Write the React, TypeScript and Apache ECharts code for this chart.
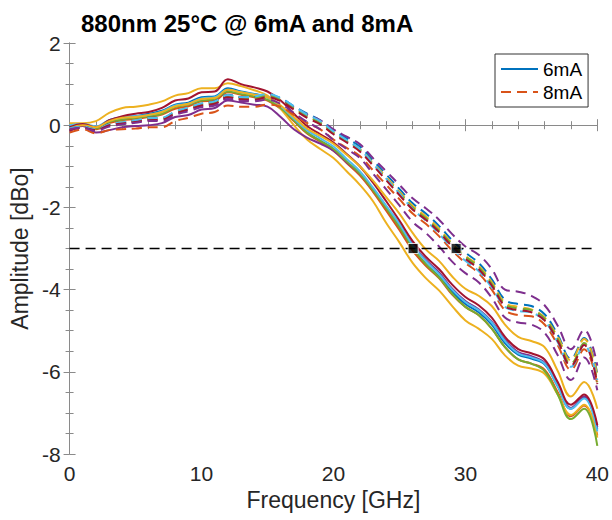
import React, { useEffect, useRef } from "react";
import * as echarts from "echarts";

// Frequency grid [GHz]
const FREQ = [
  0, 1, 2, 3, 4, 5, 6, 7, 8, 9,
  10, 11, 12, 13, 14, 15, 16, 17, 18, 19,
  20, 21, 22, 23, 24, 25, 26, 27, 28, 29,
  30, 31, 32, 33, 34, 35, 36, 37, 38, 39,
  40,
];

// 6 mA curves (solid)
const S_BLUE = [
  -0.02, 0.03, -0.05, 0.12, 0.2, 0.22, 0.28, 0.35, 0.5, 0.55,
  0.68, 0.7, 0.9, 0.82, 0.76, 0.68, 0.45, 0.12, -0.18, -0.38,
  -0.58, -0.9, -1.2, -1.6, -2.05, -2.5, -3.0, -3.38, -3.68, -4.05,
  -4.35, -4.55, -4.85, -5.3, -5.58, -5.68, -5.82, -6.35, -6.9, -6.62,
  -7.4,
];
const S_ORANGE = [
  -0.1, 0.0, -0.1, 0.05, 0.12, 0.15, 0.2, 0.26, 0.4, 0.46,
  0.58, 0.6, 0.8, 0.74, 0.68, 0.6, 0.4, 0.1, -0.2, -0.4,
  -0.62, -0.92, -1.22, -1.62, -2.08, -2.55, -3.05, -3.42, -3.72, -4.12,
  -4.42, -4.62, -4.95, -5.4, -5.7, -5.8, -5.95, -6.5, -7.08, -6.82,
  -7.55,
];
const S_YELLOW_A = [
  0.05, 0.05, 0.1, 0.3, 0.42, 0.45, 0.5, 0.58, 0.72, 0.78,
  0.9, 0.9, 1.02, 0.95, 0.85, 0.72, 0.4, 0.0, -0.35, -0.58,
  -0.8, -1.12, -1.45, -1.85, -2.38, -2.85, -3.35, -3.72, -4.02, -4.4,
  -4.75, -4.95, -5.2, -5.6, -5.85, -5.92, -6.05, -6.55, -7.05, -6.8,
  -7.6,
];
const S_YELLOW_B = [
  -0.08, 0.0, -0.05, 0.1, 0.18, 0.2, 0.25, 0.32, 0.46, 0.52,
  0.64, 0.66, 0.86, 0.8, 0.74, 0.68, 0.48, 0.2, -0.08, -0.26,
  -0.45, -0.72, -1.0, -1.35, -1.75, -2.15, -2.62, -3.02, -3.3, -3.68,
  -3.98, -4.15, -4.4, -4.85, -5.15, -5.25, -5.4, -5.98, -6.6, -6.25,
  -6.9,
];
const S_PURPLE = [
  -0.15, -0.02, -0.18, -0.12, -0.05, -0.02, 0.0, 0.05, 0.2, 0.25,
  0.38, 0.42, 0.6, 0.55, 0.5, 0.45, 0.2, -0.1, -0.3, -0.45,
  -0.62, -0.9, -1.18, -1.55, -1.98, -2.42, -2.9, -3.28, -3.58, -3.98,
  -4.28, -4.48, -4.78, -5.22, -5.52, -5.62, -5.78, -6.32, -6.88, -6.6,
  -7.35,
];
const S_GREEN = [
  -0.05, 0.02, -0.08, 0.08, 0.14, 0.18, 0.22, 0.28, 0.44, 0.5,
  0.6, 0.64, 0.82, 0.76, 0.7, 0.62, 0.42, 0.12, -0.18, -0.38,
  -0.58, -0.88, -1.18, -1.58, -2.02, -2.48, -2.98, -3.38, -3.7, -4.1,
  -4.42, -4.62, -4.95, -5.4, -5.7, -5.8, -5.98, -6.55, -7.15, -6.9,
  -7.8,
];
const S_CYAN = [
  0.0, 0.03, -0.03, 0.12, 0.18, 0.22, 0.25, 0.33, 0.48, 0.52,
  0.65, 0.68, 0.86, 0.8, 0.75, 0.68, 0.46, 0.16, -0.12, -0.32,
  -0.52, -0.82, -1.12, -1.52, -1.96, -2.4, -2.92, -3.3, -3.62, -4.0,
  -4.3, -4.5, -4.8, -5.25, -5.55, -5.65, -5.8, -6.35, -6.9, -6.65,
  -7.45,
];
const S_RED = [
  -0.05, 0.03, -0.05, 0.12, 0.22, 0.28, 0.32, 0.42, 0.6, 0.65,
  0.8, 0.82, 1.12, 1.0, 0.92, 0.82, 0.6, 0.28, -0.02, -0.22,
  -0.42, -0.7, -1.0, -1.4, -1.85, -2.32, -2.82, -3.2, -3.5, -3.88,
  -4.18, -4.38, -4.68, -5.15, -5.45, -5.55, -5.7, -6.25, -6.8, -6.55,
  -7.3,
];

// 8 mA curves (dashed)
const D_BLUE = [
  -0.08, -0.03, -0.1, 0.03, 0.08, 0.12, 0.18, 0.18, 0.33, 0.42,
  0.52, 0.58, 0.74, 0.68, 0.68, 0.74, 0.66, 0.46, 0.28, 0.12,
  -0.12, -0.32, -0.52, -0.86, -1.2, -1.55, -1.9, -2.15, -2.45, -2.8,
  -3.1, -3.35, -3.75, -4.25, -4.35, -4.4, -4.6, -5.1, -5.68, -5.18,
  -6.05,
];
const D_ORANGE = [
  -0.18, -0.1, -0.2, -0.12, -0.1, -0.08, -0.05, -0.05, 0.1, 0.18,
  0.28, 0.32, 0.48, 0.45, 0.45, 0.5, 0.45, 0.25, 0.05, -0.1,
  -0.35, -0.55, -0.75, -1.1, -1.45, -1.8, -2.15, -2.4, -2.7, -3.05,
  -3.35, -3.6, -4.0, -4.5, -4.62, -4.65, -4.85, -5.35, -5.95, -5.45,
  -6.3,
];
const D_YELLOW = [
  -0.1, -0.05, -0.1, 0.02, 0.08, 0.12, 0.17, 0.17, 0.32, 0.42,
  0.52, 0.56, 0.72, 0.66, 0.66, 0.72, 0.62, 0.42, 0.22, 0.06,
  -0.18, -0.38, -0.58, -0.92, -1.26, -1.62, -1.96, -2.22, -2.52, -2.88,
  -3.18, -3.42, -3.82, -4.32, -4.42, -4.48, -4.68, -5.15, -5.72, -5.2,
  -6.1,
];
const D_PURPLE_A = [
  -0.12, -0.05, -0.12, 0.0, 0.05, 0.1, 0.14, 0.14, 0.28, 0.38,
  0.48, 0.52, 0.68, 0.62, 0.62, 0.7, 0.62, 0.44, 0.26, 0.12,
  -0.1, -0.28, -0.46, -0.8, -1.12, -1.45, -1.78, -2.02, -2.3, -2.65,
  -2.95, -3.15, -3.5, -4.0, -4.05, -4.15, -4.38, -4.88, -5.45, -4.98,
  -5.85,
];
const D_PURPLE_B = [
  -0.1, -0.06, -0.14, -0.03, 0.02, 0.06, 0.1, 0.1, 0.25, 0.34,
  0.44, 0.48, 0.64, 0.58, 0.58, 0.62, 0.52, 0.3, 0.08, -0.1,
  -0.36, -0.58, -0.8, -1.18, -1.56, -1.95, -2.35, -2.62, -2.95, -3.32,
  -3.6, -3.82, -4.2, -4.68, -4.8, -4.85, -5.05, -5.6, -6.2, -5.65,
  -6.45,
];
const D_GREEN = [
  -0.1, -0.05, -0.12, 0.0, 0.06, 0.1, 0.15, 0.16, 0.31, 0.41,
  0.5, 0.56, 0.71, 0.66, 0.66, 0.71, 0.61, 0.41, 0.21, 0.06,
  -0.19, -0.39, -0.6, -0.95, -1.3, -1.65, -2.0, -2.26, -2.56, -2.9,
  -3.2, -3.45, -3.86, -4.36, -4.46, -4.5, -4.7, -5.2, -5.8, -5.3,
  -6.25,
];
const D_CYAN = [
  -0.08, -0.04, -0.1, 0.02, 0.07, 0.12, 0.17, 0.18, 0.33, 0.43,
  0.53, 0.58, 0.73, 0.68, 0.7, 0.76, 0.66, 0.46, 0.26, 0.1,
  -0.15, -0.36, -0.58, -0.94, -1.3, -1.66, -2.04, -2.32, -2.64, -3.0,
  -3.3, -3.55, -3.95, -4.42, -4.52, -4.56, -4.76, -5.28, -5.88, -5.35,
  -6.2,
];
const D_RED = [
  -0.12, -0.06, -0.12, 0.0, 0.04, 0.08, 0.12, 0.13, 0.28, 0.38,
  0.48, 0.52, 0.68, 0.63, 0.62, 0.68, 0.58, 0.38, 0.18, 0.02,
  -0.22, -0.42, -0.64, -0.98, -1.34, -1.7, -2.05, -2.3, -2.6, -2.95,
  -3.25, -3.5, -3.9, -4.4, -4.5, -4.55, -4.75, -5.25, -5.85, -5.35,
  -6.3,
];

const THRESHOLD_DB = -3;
const CROSSINGS_GHZ = [26.04, 29.3];
const LEGEND_NAMES = ["6mA", "8mA"];

const C_BLUE = "#0072BD";
const C_ORANGE = "#D95319";
const C_YELLOW = "#EDB120";
const C_PURPLE = "#7E2F8E";
const C_GREEN = "#77AC30";
const C_CYAN = "#4DBEEE";
const C_RED = "#A2142F";

const SOLID = [
  { name: "6mA", color: C_BLUE, values: S_BLUE },
  { name: "6mA b", color: C_ORANGE, values: S_ORANGE },
  { name: "6mA c", color: C_YELLOW, values: S_YELLOW_A },
  { name: "6mA d", color: C_PURPLE, values: S_PURPLE },
  { name: "6mA e", color: C_GREEN, values: S_GREEN },
  { name: "6mA f", color: C_CYAN, values: S_CYAN },
  { name: "6mA g", color: C_RED, values: S_RED },
  { name: "6mA h", color: C_YELLOW, values: S_YELLOW_B },
];
const DASHED = [
  { name: "8mA b", color: C_BLUE, values: D_BLUE },
  { name: "8mA", color: C_ORANGE, values: D_ORANGE },
  { name: "8mA c", color: C_YELLOW, values: D_YELLOW },
  { name: "8mA d", color: C_PURPLE, values: D_PURPLE_A },
  { name: "8mA e", color: C_GREEN, values: D_GREEN },
  { name: "8mA f", color: C_CYAN, values: D_CYAN },
  { name: "8mA g", color: C_RED, values: D_RED },
  { name: "8mA h", color: C_PURPLE, values: D_PURPLE_B },
];

const FONT = "'Liberation Sans', Arial, Helvetica, sans-serif";
const AXIS_GRAY = "#8a8a8a";
const TEXT_GRAY = "#262626";
const DASH = [10, 6];

export default function App() {
  const ref = useRef<HTMLDivElement>(null);
  useEffect(() => {
    const chart = echarts.init(ref.current!, null, { renderer: "svg" });

    const mkLine = (s: any, dashed: boolean) => ({
      type: "line",
      name: s.name,
      data: FREQ.map((f, i) => [f, s.values[i]]),
      xAxisIndex: 0,
      yAxisIndex: 0,
      symbol: "none",
      showSymbol: false,
      smooth: 0.4,
      color: s.color,
      lineStyle: { width: 2, color: s.color, type: dashed ? DASH : "solid" },
      z: 2,
    });

    const axisCommon = {
      axisLine: { show: true, lineStyle: { color: AXIS_GRAY, width: 1 } },
      splitLine: { show: false },
    };

    chart.setOption({
      animation: false,
      backgroundColor: "#ffffff",
      title: {
        text: "880nm 25°C @ 6mA and 8mA",
        left: 76,
        top: 6,
        textStyle: { fontFamily: FONT, fontSize: 24, fontWeight: "bold", color: "#000" },
      },
      legend: {
        data: LEGEND_NAMES,
        orient: "vertical",
        left: 495,
        top: 54,
        padding: [5, 6, 5, 5],
        itemWidth: 37,
        itemHeight: 20,
        itemGap: 3,
        borderColor: "#333",
        borderWidth: 1,
        backgroundColor: "#fff",
        itemStyle: { opacity: 0 },
        lineStyle: { width: 2 },
        textStyle: { fontFamily: FONT, fontSize: 19, color: "#000", lineHeight: 20 },
        selectedMode: false,
      },
      grid: { left: 65, right: 13, top: 43, bottom: 66, containLabel: false },
      xAxis: [
        {
          type: "value",
          min: 0,
          max: 40,
          interval: 10,
          position: "bottom",
          name: "Frequency [GHz]",
          nameLocation: "middle",
          nameGap: 33,
          nameTextStyle: { fontFamily: FONT, fontSize: 23, color: TEXT_GRAY },
          axisLabel: { fontFamily: FONT, fontSize: 21, color: TEXT_GRAY, margin: 9 },
          axisTick: { inside: true, length: 6, lineStyle: { color: AXIS_GRAY } },
          minorTick: { show: true, splitNumber: 5, length: 4, lineStyle: { color: AXIS_GRAY } },
          ...axisCommon,
        },
        {
          type: "value",
          min: 0,
          max: 40,
          interval: 10,
          position: "top",
          axisLabel: { show: false },
          axisTick: { inside: true, length: 6, lineStyle: { color: AXIS_GRAY } },
          minorTick: { show: true, splitNumber: 5, length: 4, lineStyle: { color: AXIS_GRAY } },
          ...axisCommon,
        },
      ],
      yAxis: [
        {
          type: "value",
          min: -8,
          max: 2,
          interval: 2,
          position: "left",
          name: "Amplitude [dBo]",
          nameLocation: "middle",
          nameGap: 38,
          nameTextStyle: { fontFamily: FONT, fontSize: 23, color: TEXT_GRAY },
          axisLabel: { fontFamily: FONT, fontSize: 21, color: TEXT_GRAY, margin: 9 },
          axisTick: { inside: true, length: 6, lineStyle: { color: AXIS_GRAY } },
          minorTick: { show: true, splitNumber: 4, length: 4, lineStyle: { color: AXIS_GRAY } },
          ...axisCommon,
        },
        {
          type: "value",
          min: -8,
          max: 2,
          interval: 2,
          position: "right",
          axisLabel: { show: false },
          axisTick: { inside: true, length: 6, lineStyle: { color: AXIS_GRAY } },
          minorTick: { show: true, splitNumber: 4, length: 4, lineStyle: { color: AXIS_GRAY } },
          ...axisCommon,
        },
      ],
      series: [
        ...SOLID.map((s) => mkLine(s, false)),
        ...DASHED.map((s) => mkLine(s, true)),
        {
          type: "line",
          name: "-3 dB",
          data: [
            [0, THRESHOLD_DB],
            [40, THRESHOLD_DB],
          ],
          symbol: "none",
          lineStyle: { color: "#000", width: 1.5, type: DASH },
          z: 3,
        },
        {
          type: "scatter",
          name: "crossing",
          data: CROSSINGS_GHZ.map((f) => [f, THRESHOLD_DB]),
          symbol: "rect",
          symbolSize: 10,
          itemStyle: { color: "#000", borderColor: "#fff", borderWidth: 1 },
          z: 4,
        },
      ],
    });
    return () => chart.dispose();
  }, []);
  return (
    <div
      ref={ref}
      style={{ position: "fixed", left: 0, top: 0, width: 612, height: 520, background: "#fff" }}
    />
  );
}
